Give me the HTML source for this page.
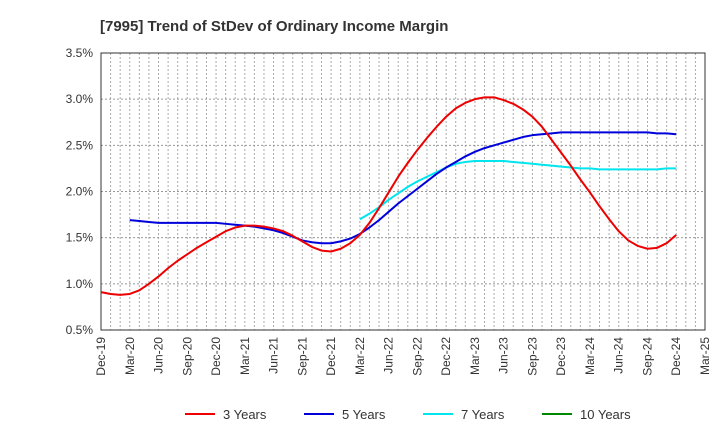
<!DOCTYPE html>
<html><head><meta charset="utf-8"><style>
body{margin:0;background:#fff;font-family:"Liberation Sans",Arial,sans-serif}
svg text{font-family:"Liberation Sans",Arial,sans-serif}
</style></head><body>
<svg id="c" width="720" height="440">
<text x="100" y="31" text-anchor="start" font-size="15" font-weight="bold" fill="#333">[7995]  Trend of StDev of Ordinary Income Margin</text>
</svg>
<script>
const xLabels=["Dec-19","Mar-20","Jun-20","Sep-20","Dec-20","Mar-21","Jun-21","Sep-21","Dec-21","Mar-22","Jun-22","Sep-22","Dec-22","Mar-23","Jun-23","Sep-23","Dec-23","Mar-24","Jun-24","Sep-24","Dec-24","Mar-25"];
const yTicks=[0.5,1.0,1.5,2.0,2.5,3.0,3.5];
const s3=[0.91,0.89,0.88,0.89,0.93,1.0,1.08,1.17,1.25,1.32,1.39,1.45,1.51,1.57,1.61,1.63,1.63,1.62,1.60,1.57,1.52,1.46,1.40,1.36,1.35,1.38,1.44,1.53,1.66,1.82,1.99,2.16,2.31,2.45,2.58,2.70,2.81,2.90,2.96,3.00,3.02,3.02,2.99,2.95,2.89,2.81,2.70,2.56,2.42,2.28,2.13,1.99,1.84,1.70,1.57,1.47,1.41,1.38,1.39,1.44,1.53];
const s5start=3;
const s5=[1.69,1.68,1.67,1.66,1.66,1.66,1.66,1.66,1.66,1.66,1.65,1.64,1.63,1.62,1.60,1.58,1.55,1.51,1.47,1.45,1.44,1.44,1.46,1.49,1.54,1.61,1.69,1.78,1.87,1.95,2.03,2.11,2.19,2.26,2.32,2.38,2.43,2.47,2.50,2.53,2.56,2.59,2.61,2.62,2.63,2.64,2.64,2.64,2.64,2.64,2.64,2.64,2.64,2.64,2.64,2.63,2.63,2.62];
const s7start=27;
const s7=[1.70,1.76,1.83,1.91,1.98,2.05,2.11,2.16,2.21,2.26,2.30,2.32,2.33,2.33,2.33,2.33,2.32,2.31,2.30,2.29,2.28,2.27,2.26,2.25,2.25,2.24,2.24,2.24,2.24,2.24,2.24,2.24,2.25,2.25];
const L=101,R=705,T=53,B=330,N=63;
const X=i=>L+(R-L)*i/N;
const Y=v=>B-(v-0.5)/3*(B-T);
const svg=document.getElementById('c');const ns="http://www.w3.org/2000/svg";
function mk(t,a){const e=document.createElementNS(ns,t);for(const k in a)e.setAttribute(k,a[k]);svg.appendChild(e);return e;}
for(let i=1;i<N;i++){const g=mk('line',{x1:X(i),x2:X(i),y1:T,y2:B,stroke:'#aaa','stroke-dasharray':'2,2'});

}
yTicks.forEach(v=>{if(v>0.5&&v<3.5){const g=mk('line',{x1:L,x2:R,y1:Y(v),y2:Y(v),stroke:'#999','stroke-dasharray':'2,2'});

}
const t=mk('text',{x:L-8,y:Y(v)+4,'text-anchor':'end','font-size':12,fill:'#333'});t.textContent=v.toFixed(1)+'%';

});
xLabels.forEach((s,i)=>{const x=X(i*3);const t=mk('text',{x:x+4,y:B+7,'text-anchor':'end','font-size':12,fill:'#333',transform:`rotate(-90 ${x+4} ${B+7})`});t.textContent=s;

});
const fr=mk('rect',{x:L,y:T,width:R-L,height:B-T,fill:'none',stroke:'#333'});


function line(d,st,c,n){const p=mk('polyline',{points:d.map((v,i)=>X(i+st)+','+Y(v)).join(' '),fill:'none',stroke:c,'stroke-width':2,'stroke-linejoin':'round'});

}
line(s7,s7start,'#00e5ee','series-7-years');
line(s5,s5start,'#0000dd','series-5-years');
line(s3,0,'#ee0000','series-3-years');
const leg=[["3 Years","#ee0000",185],["5 Years","#0000dd",304],["7 Years","#00e5ee",423],["10 Years","#008800",542]];
leg.forEach(([s,c,x])=>{const l=mk('line',{x1:x,x2:x+30,y1:414,y2:414,stroke:c,'stroke-width':2});


const t=mk('text',{x:x+38,y:419,'font-size':13,fill:'#333'});t.textContent=s;

});
</script>
</body></html>
